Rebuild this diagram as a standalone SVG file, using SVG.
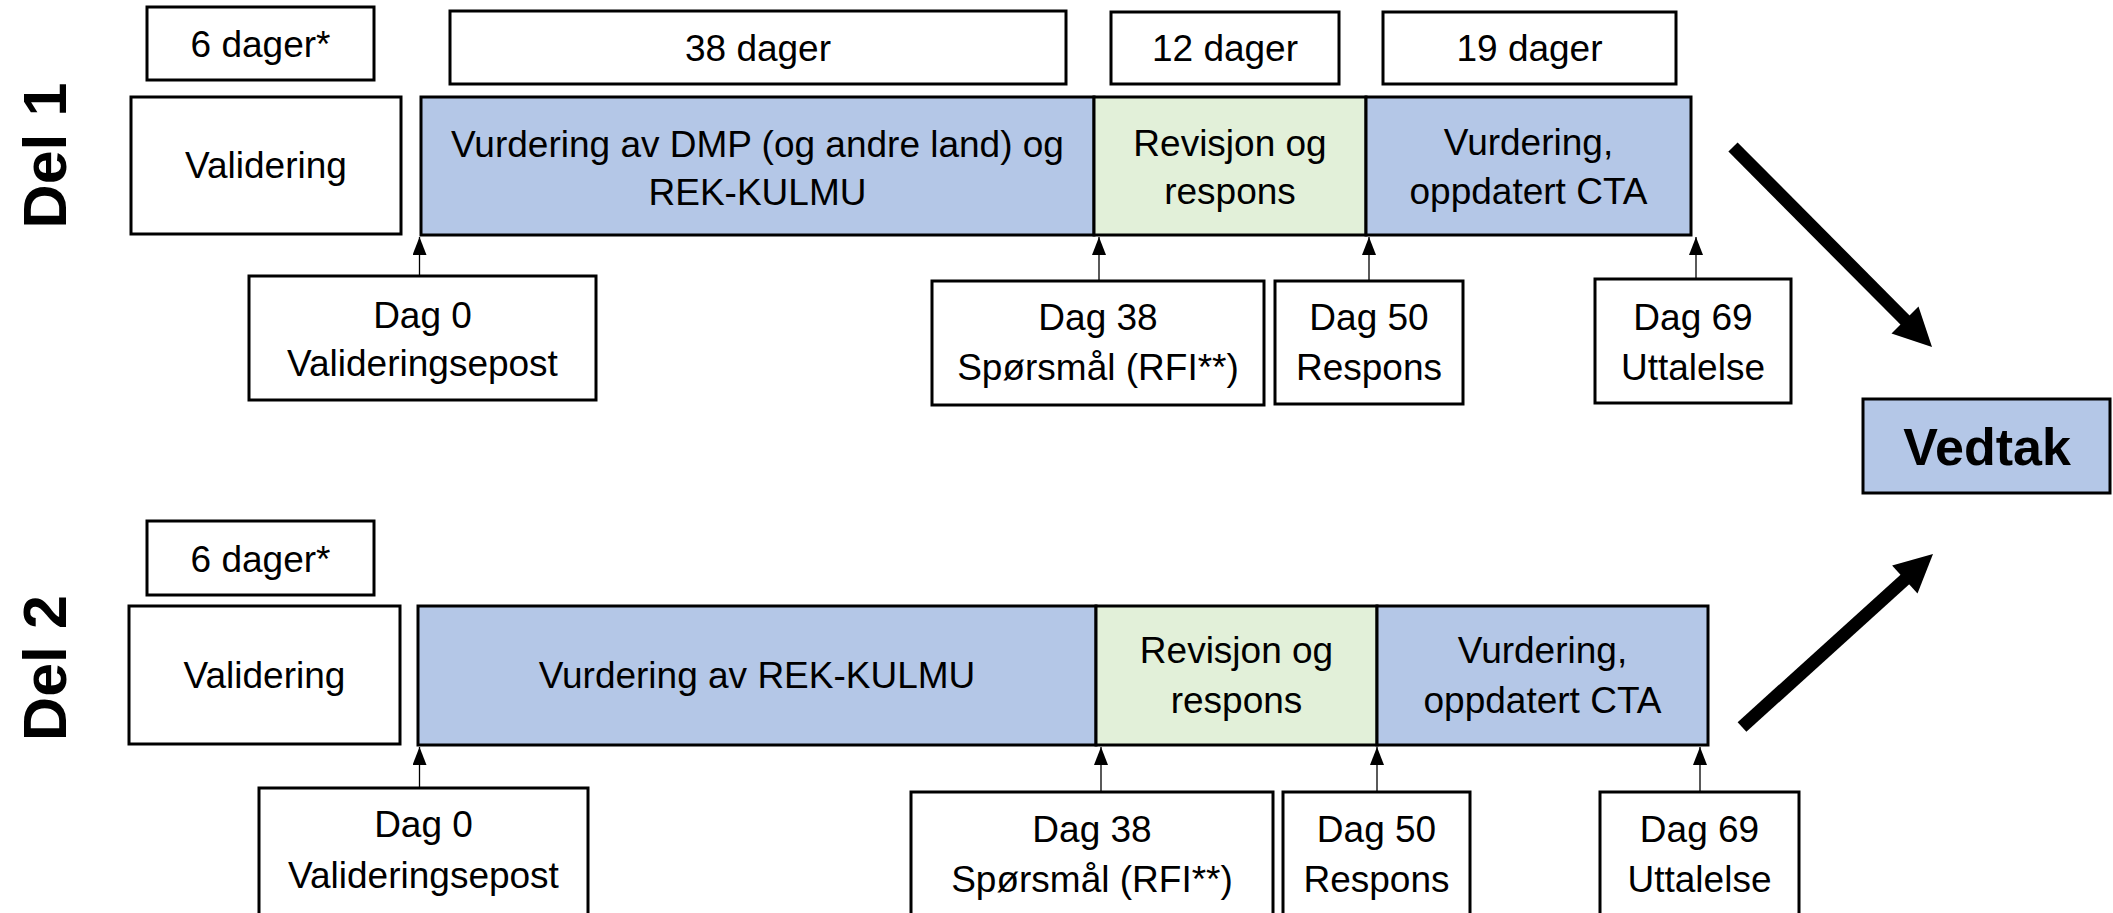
<svg xmlns="http://www.w3.org/2000/svg" width="2113" height="913" viewBox="0 0 2113 913">
<style>
.box{fill:#fff;stroke:#000;stroke-width:3}
.blue{fill:#B4C7E7;stroke:#000;stroke-width:3}
.green{fill:#E2F0D9;stroke:#000;stroke-width:3}
.t{font-family:"Liberation Sans",Arial,sans-serif;font-size:37px;fill:#000;text-anchor:middle}
.del{font-family:"Liberation Sans",Arial,sans-serif;font-size:61px;font-weight:bold;fill:#000;text-anchor:middle}
.ved{font-family:"Liberation Sans",Arial,sans-serif;font-size:52px;font-weight:bold;fill:#000;text-anchor:middle}
.thin{stroke:#000;stroke-width:1.3;fill:none;marker-end:url(#ah)}
.big{stroke:#000;stroke-width:13;fill:none}
</style>
<defs>
<marker id="ah" markerUnits="userSpaceOnUse" markerWidth="18" markerHeight="14" viewBox="0 0 18 14" refX="18" refY="7" orient="auto">
<path d="M0,0 L18,7 L0,14 Z" fill="#000"/>
</marker>
</defs>
<g id="label-del1"><text class="del" transform="translate(66,155.5) rotate(-90)">Del 1</text></g>
<g id="label-del2"><text class="del" transform="translate(66,668) rotate(-90)">Del 2</text></g>

<g id="d1-dur6"><rect class="box" x="147" y="7" width="227" height="73"/><text class="t" x="260.5" y="57">6 dager*</text></g>
<g id="d1-dur38"><rect class="box" x="450" y="11" width="616" height="73"/><text class="t" x="758" y="61">38 dager</text></g>
<g id="d1-dur12"><rect class="box" x="1111" y="12" width="228" height="72"/><text class="t" x="1225" y="61">12 dager</text></g>
<g id="d1-dur19"><rect class="box" x="1383" y="12" width="293" height="72"/><text class="t" x="1529.5" y="61">19 dager</text></g>

<g id="d1-validering"><rect class="box" x="131" y="97" width="270" height="137"/><text class="t" x="266" y="178">Validering</text></g>
<g id="d1-vurdering"><rect class="blue" x="421" y="97" width="673" height="138"/><text class="t" x="757.5" y="157">Vurdering av DMP (og andre land) og</text><text class="t" x="757.5" y="205">REK-KULMU</text></g>
<g id="d1-revisjon"><rect class="green" x="1094" y="97" width="272" height="138"/><text class="t" x="1230" y="156">Revisjon og</text><text class="t" x="1230" y="204">respons</text></g>
<g id="d1-cta"><rect class="blue" x="1366" y="97" width="325" height="138"/><text class="t" x="1528.5" y="155">Vurdering,</text><text class="t" x="1528.5" y="204">oppdatert CTA</text></g>

<g id="d1-dag0"><rect class="box" x="249" y="276" width="347" height="124"/><text class="t" x="422.5" y="328">Dag 0</text><text class="t" x="422.5" y="376">Valideringsepost</text></g>
<g id="d1-dag38"><rect class="box" x="932" y="281" width="332" height="124"/><text class="t" x="1098" y="330">Dag 38</text><text class="t" x="1098" y="380">Spørsmål (RFI**)</text></g>
<g id="d1-dag50"><rect class="box" x="1275" y="281" width="188" height="123"/><text class="t" x="1369" y="330">Dag 50</text><text class="t" x="1369" y="380">Respons</text></g>
<g id="d1-dag69"><rect class="box" x="1595" y="279" width="196" height="124"/><text class="t" x="1693" y="330">Dag 69</text><text class="t" x="1693" y="380">Uttalelse</text></g>

<g id="d2-dur6"><rect class="box" x="147" y="521" width="227" height="74"/><text class="t" x="260.5" y="571.5">6 dager*</text></g>
<g id="d2-validering"><rect class="box" x="129" y="606" width="271" height="138"/><text class="t" x="264.5" y="688">Validering</text></g>
<g id="d2-vurdering"><rect class="blue" x="418" y="606" width="678" height="139"/><text class="t" x="757" y="688">Vurdering av REK-KULMU</text></g>
<g id="d2-revisjon"><rect class="green" x="1096" y="606" width="281" height="139"/><text class="t" x="1236.5" y="663">Revisjon og</text><text class="t" x="1236.5" y="713">respons</text></g>
<g id="d2-cta"><rect class="blue" x="1377" y="606" width="331" height="139"/><text class="t" x="1542.5" y="663">Vurdering,</text><text class="t" x="1542.5" y="713">oppdatert CTA</text></g>

<g id="d2-dag0"><rect class="box" x="259" y="788" width="329" height="140"/><text class="t" x="423.5" y="837">Dag 0</text><text class="t" x="423.5" y="888">Valideringsepost</text></g>
<g id="d2-dag38"><rect class="box" x="911" y="792" width="362" height="140"/><text class="t" x="1092" y="842">Dag 38</text><text class="t" x="1092" y="892">Spørsmål (RFI**)</text></g>
<g id="d2-dag50"><rect class="box" x="1283" y="792" width="187" height="140"/><text class="t" x="1376.5" y="842">Dag 50</text><text class="t" x="1376.5" y="892">Respons</text></g>
<g id="d2-dag69"><rect class="box" x="1600" y="792" width="199" height="140"/><text class="t" x="1699.5" y="842">Dag 69</text><text class="t" x="1699.5" y="892">Uttalelse</text></g>

<g id="vedtak"><rect class="blue" x="1863" y="399" width="247" height="94"/><text class="ved" x="1987" y="465">Vedtak</text></g>

<g id="connectors">
<line class="thin" x1="419.5" y1="276" x2="419.5" y2="237"/>
<line class="thin" x1="1099" y1="281" x2="1099" y2="237"/>
<line class="thin" x1="1369" y1="281" x2="1369" y2="237"/>
<line class="thin" x1="1696" y1="279" x2="1696" y2="237"/>
<line class="thin" x1="419.5" y1="788" x2="419.5" y2="747"/>
<line class="thin" x1="1101" y1="792" x2="1101" y2="747"/>
<line class="thin" x1="1377" y1="792" x2="1377" y2="747"/>
<line class="thin" x1="1700" y1="792" x2="1700" y2="747"/>
<line class="big" x1="1733" y1="147" x2="1906" y2="321"/>
<polygon points="1932,347 1891.5,333.4 1918.5,306.6" fill="#000"/>
<line class="big" x1="1742" y1="727" x2="1906" y2="578.5"/>
<polygon points="1933,554 1917.5,593.6 1892.1,565.4" fill="#000"/>
</g>
</svg>
